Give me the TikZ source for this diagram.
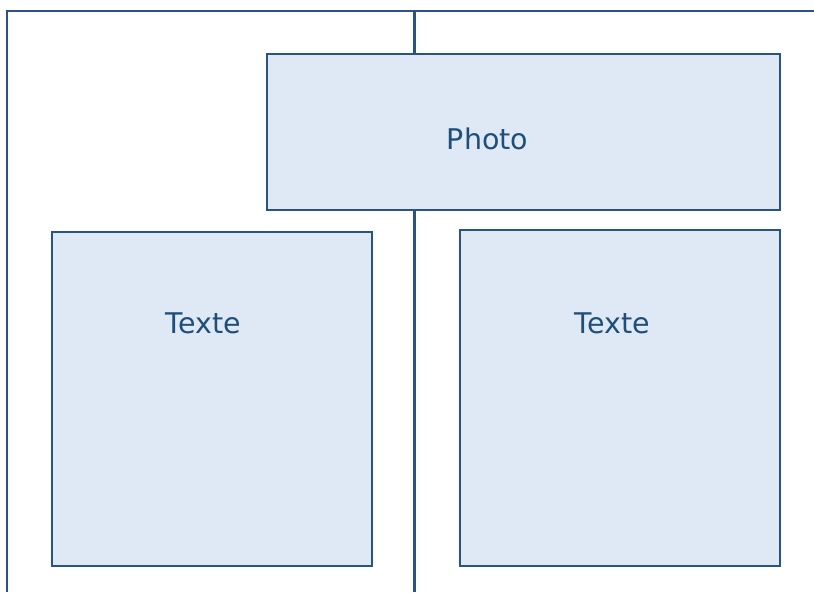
\documentclass[tikz,border=0pt]{standalone}
\usepackage{fontspec}
\setmainfont{DejaVu Sans}
\definecolor{strokeblue}{RGB}{41,84,130}
\definecolor{fillblue}{RGB}{222,233,245}
\definecolor{textblue}{RGB}{31,78,121}
\begin{document}
\begin{tikzpicture}[x=1pt,y=-1pt,
  frame/.style={draw=strokeblue,line width=2.4pt},
  panel/.style={draw=strokeblue,fill=fillblue,line width=2.4pt,rectangle,inner sep=0pt,anchor=north west},
  lbl/.style={text=textblue,inner sep=0pt,anchor=base,font=\fontsize{28.5}{34}\selectfont}]
\useasboundingbox (0,0) rectangle (814,592);
\coordinate (tl) at (7,11);
\coordinate (tr) at (814,11);
\coordinate (bl) at (7,592);
\coordinate (mt) at (414.5,11);
\coordinate (mb) at (414.5,592);
\draw[frame] (tr) -- (tl) -- (bl);
\draw[frame] (mt) -- (mb);
\node[panel,minimum width=513pt,minimum height=156pt] (photo) at (266,53) {};
\node[panel,minimum width=320pt,minimum height=334pt] (left) at (51,231) {};
\node[panel,minimum width=320pt,minimum height=336pt] (right) at (459,229) {};
\node[lbl] (photoT) at (487.5,149) {Photo};
\node[lbl] (leftT) at (203.5,333) {Texte};
\node[lbl] (rightT) at (612.5,333) {Texte};
\end{tikzpicture}
\end{document}
